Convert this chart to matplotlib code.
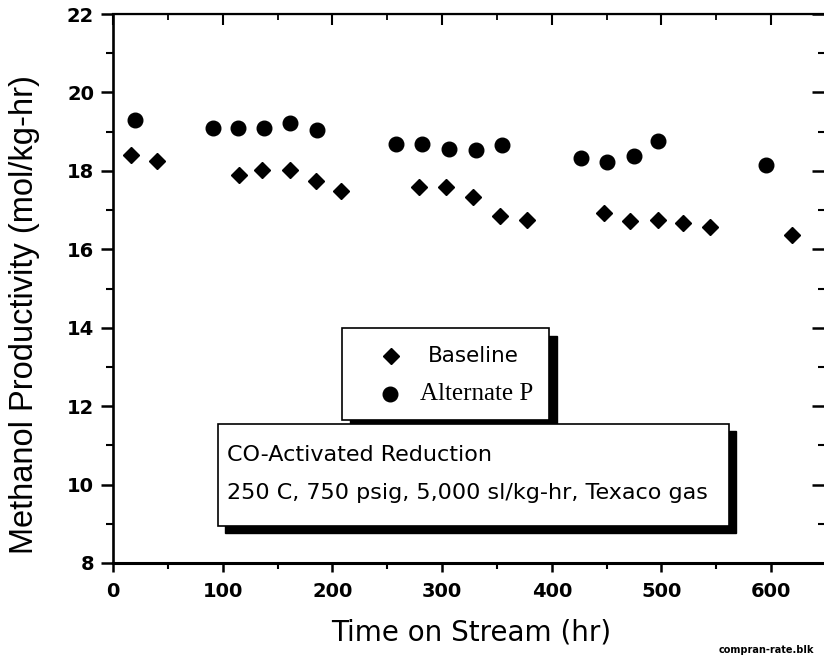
import matplotlib.pyplot as plt
from matplotlib.patches import Rectangle
from matplotlib.lines import Line2D

# data
base_hr = [16, 40, 115, 136, 161, 185, 208, 279, 304, 328, 353, 377,
           448, 471, 497, 520, 544, 619]
base_rate = [18.41, 18.26, 17.90, 18.03, 18.01, 17.74, 17.49, 17.58, 17.60,
             17.33, 16.85, 16.74, 16.92, 16.72, 16.74, 16.67, 16.58, 16.36]

alt_hr = [20, 91, 114, 138, 161, 186, 258, 282, 306, 331, 355, 427,
          450, 475, 497, 595]
alt_rate = [19.29, 19.09, 19.09, 19.10, 19.22, 19.03, 18.69, 18.68, 18.56,
            18.52, 18.67, 18.33, 18.22, 18.38, 18.75, 18.16]

x_ticks = [0, 100, 200, 300, 400, 500, 600]
x_minor = [50, 150, 250, 350, 450, 550]
y_ticks = [8, 10, 12, 14, 16, 18, 20, 22]
y_minor = [9, 11, 13, 15, 17, 19, 21]

W, H = 824, 662
SANS = ['Liberation Sans', 'DejaVu Sans']
WIDE = ['DejaVu Sans']

fig = plt.figure(figsize=(W / 100, H / 100), dpi=100)
ax = fig.add_axes([113 / W, 1 - 563 / H, (826 - 113) / W, (563 - 14) / H])

ax.plot(base_hr, base_rate, ls='none', marker='D', ms=8.5, color='black',
        clip_on=False, zorder=3)
ax.plot(alt_hr, alt_rate, ls='none', marker='o', ms=10.5, color='black',
        clip_on=False, zorder=3)

ax.set_xlim(0, 650)
ax.set_ylim(8, 22)
ax.set_xticks(x_ticks)
ax.set_yticks(y_ticks)
ax.set_xticks(x_minor, minor=True)
ax.set_yticks(y_minor, minor=True)
ax.tick_params(axis='y', which='major', direction='out', length=8.5, width=1.8,
               labelsize=14, pad=5)
ax.tick_params(axis='y', which='minor', direction='out', length=5, width=1.5)
ax.tick_params(axis='x', which='major', direction='out', length=6.5, width=1.8,
               labelsize=14, pad=7.5)
ax.tick_params(axis='x', which='minor', direction='out', length=4, width=1.5)
for lab in ax.get_xticklabels() + ax.get_yticklabels():
    lab.set_fontweight('bold')
    lab.set_family(WIDE)

ax.spines['left'].set_linewidth(1.9)
ax.spines['bottom'].set_linewidth(2.2)
ax.spines['top'].set_linewidth(1.6)
ax.spines['right'].set_linewidth(1.5)

# inward ticks on top and right
top = ax.secondary_xaxis('top')
top.set_xticks(x_ticks)
top.set_xticks(x_minor, minor=True)
top.tick_params(which='major', direction='in', length=8, width=1.5)
top.tick_params(which='minor', direction='in', length=4.5, width=1.3)
top.set_xticklabels([])
right = ax.secondary_yaxis('right')
right.set_yticks(y_ticks)
right.set_yticks(y_minor, minor=True)
right.tick_params(which='major', direction='in', length=10, width=1.8)
right.tick_params(which='minor', direction='in', length=5.5, width=1.5)
right.set_yticklabels([])

fig.text(471 / W, 1 - 640 / H, 'Time on Stream (hr)', fontsize=20,
         family=WIDE, ha='center', va='baseline')
fig.text(25 / W, 1 - 315 / H, 'Methanol Productivity (mol/kg-hr)',
         fontsize=23.5, family=SANS, rotation=90, ha='center', va='center')


def box(x0, y0, x1, y1, shadow=8):
    # pixel box with a drop shadow, in figure fractions
    fig.patches.append(Rectangle(((x0 + shadow) / W, 1 - (y1 + shadow) / H),
                                 (x1 - x0) / W, (y1 - y0) / H,
                                 transform=fig.transFigure, facecolor='black',
                                 edgecolor='black', zorder=5))
    fig.patches.append(Rectangle((x0 / W, 1 - y1 / H), (x1 - x0) / W,
                                 (y1 - y0) / H, transform=fig.transFigure,
                                 facecolor='white', edgecolor='black',
                                 linewidth=1.2, zorder=6))


box(218, 424, 729, 526, shadow=7)
box(342, 328, 549, 420, shadow=8)

fig.text(227 / W, 1 - 455 / H, 'CO-Activated Reduction', fontsize=16,
         family=WIDE, va='center', ha='left', zorder=7)
fig.text(227 / W, 1 - 493 / H, '250 C, 750 psig, 5,000 sl/kg-hr, Texaco gas',
         fontsize=16, family=WIDE, va='center', ha='left', zorder=7)

fig.lines.append(Line2D([391 / W], [1 - 356 / H], marker='D', ms=8,
                        color='black', ls='none', transform=fig.transFigure,
                        zorder=7))
fig.lines.append(Line2D([390 / W], [1 - 394 / H], marker='o', ms=10.5,
                        color='black', ls='none', transform=fig.transFigure,
                        zorder=7))
fig.text(428 / W, 1 - 356 / H, 'Baseline', fontsize=15.5, family=WIDE,
         va='center', ha='left', zorder=7)
fig.text(420 / W, 1 - 394 / H, 'Alternate P', fontsize=18, va='center',
         ha='left', family=['Liberation Serif', 'DejaVu Serif'], zorder=7)

fig.text(814 / W, 1 - 650 / H, 'compran-rate.blk', fontsize=7,
         fontweight='bold', family=WIDE, ha='right', va='center')

fig.savefig('out.png', dpi=100)
